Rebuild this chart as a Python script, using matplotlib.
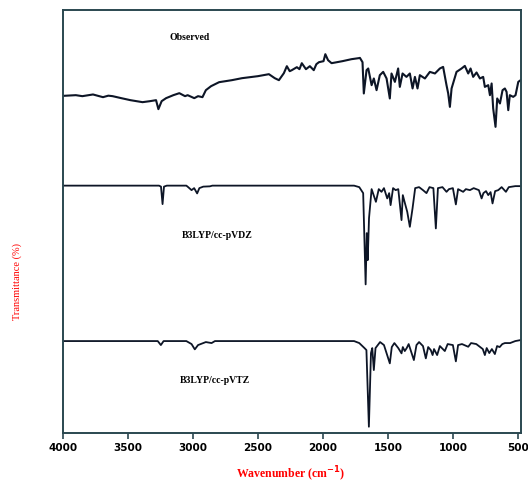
import numpy as np
import matplotlib
matplotlib.use("Agg")
import matplotlib.pyplot as plt

# observed FT-IR trace (wavenumber, relative transmittance)
obs_wn = [4000, 3900, 3850, 3768, 3720, 3691, 3650, 3617, 3550, 3480, 3387, 3330,
          3283, 3265, 3240, 3206, 3150, 3104, 3060, 3040, 2989, 2960, 2926, 2900,
          2860, 2798, 2700, 2622, 2500, 2415, 2370, 2338, 2300, 2277, 2255, 2239,
          2200, 2180, 2162, 2130, 2100, 2070, 2050, 2030, 1995, 1981, 1960, 1933,
          1850, 1780, 1726, 1715, 1695, 1685, 1664, 1651, 1625, 1608, 1587, 1562,
          1536, 1510, 1485, 1472, 1446, 1421, 1408, 1387, 1357, 1331, 1310, 1292,
          1272, 1254, 1215, 1177, 1138, 1100, 1075, 1049, 1036, 1023, 1010, 972,
          933, 908, 882, 864, 844, 818, 792, 767, 754, 728, 715, 702, 690, 672,
          659, 638, 618, 600, 587, 574, 562, 536, 518, 497, 479]
obs_t = [337.3, 338, 337, 338.7, 337, 336, 337.5, 337, 335, 333, 331, 332,
         333, 324, 332, 335, 338, 340, 337, 338, 335, 337, 336, 343,
         347, 351, 353, 355, 357, 359, 355, 353, 360, 367, 362, 363,
         366, 364, 370, 364, 367, 363, 369, 371, 372, 379, 373, 370,
         372, 374, 375, 375.3, 371, 339.7, 363, 364.7, 348, 354.7, 343, 358,
         361.3, 354.7, 334.7, 359.7, 351.3, 364.7, 346.3, 359.7, 356.3, 359.7, 344.7, 356.3,
         344.7, 358, 354.7, 361.3, 359.7, 364.7, 366.3, 348, 339.7, 326.3, 344.7, 361.3,
         364.7, 367.3, 359.7, 364.7, 356.3, 360.7, 354.7, 356.3, 346.3, 348, 338, 349.7, 324.7, 306.3,
         334.7, 329.7, 343, 344.7, 341.3, 323, 338, 336.3, 338, 351.3, 353]

# B3LYP/cc-pVDZ simulated spectrum
vdz_wn = [4000, 3260, 3245, 3233, 3222, 3200, 3050, 3036, 3010, 2990, 2967, 2950,
          2920, 2869, 2850, 1760, 1720, 1690, 1671, 1662, 1655, 1645, 1625, 1592,
          1570, 1549, 1530, 1505, 1490, 1479, 1460, 1440, 1420, 1395, 1385, 1369,
          1351, 1331, 1310, 1290, 1260, 1230, 1203, 1180, 1150, 1131, 1115, 1080,
          1049, 1030, 1000, 977, 960, 921, 900, 869, 840, 800, 779, 765, 745, 728,
          710, 695, 675, 651, 625, 592, 570, 520, 479]
vdz_t = [247.5, 247.5, 246.5, 229, 246.5, 247.5, 247.5, 246, 243, 245, 239.7, 245,
         246.5, 246.8, 247.5, 247.5, 246, 240, 148.7, 200, 173, 215, 244, 231.3,
         244, 241.3, 245, 234.7, 240, 228, 245, 243, 244, 213, 238, 230,
         221.3, 206.3, 225, 245, 246, 243, 240, 246, 245, 204.7, 245, 246,
         241.3, 244, 245, 228.7, 244, 241.3, 244, 243, 245, 243, 234.7, 240, 242, 238,
         241, 229.7, 242, 243, 246, 241.3, 246, 247, 247]

# B3LYP/cc-pVTZ simulated spectrum
vtz_wn = [4000, 3270, 3246, 3225, 3050, 3010, 2985, 2960, 2900, 2856, 2830, 1760,
          1720, 1680, 1665, 1646, 1630, 1620, 1608, 1595, 1560, 1530, 1485, 1470,
          1450, 1420, 1395, 1385, 1370, 1355, 1340, 1300, 1280, 1260, 1230, 1208,
          1190, 1170, 1156, 1145, 1121, 1100, 1062, 1040, 1000, 977, 960, 930,
          882, 860, 820, 790, 770, 754, 740, 720, 700, 677, 660, 640, 620, 600,
          560, 520, 479]
vtz_t = [92, 92, 88, 92, 92, 89, 83.7, 88, 91, 90, 92, 92,
         90, 85, 83, 6.3, 80, 85, 63, 85, 91, 88, 69.7, 86,
         90, 85, 79.7, 86, 82, 85, 89, 73, 88, 91, 87, 74.7,
         86, 83, 78, 84, 78, 87, 82, 89, 88, 71.7, 88, 89,
         86.3, 90, 89, 86, 84, 78, 85, 80, 84, 79, 87, 86, 89, 90,
         90, 92, 93]

etiquetas = ["Observed", "B3LYP/cc-pVDZ", "B3LYP/cc-pVTZ"]
pos_etiquetas = [(3023, 396), (2815, 198), (2830, 53)]

fig = plt.figure(figsize=(5.28, 4.86), dpi=100)
ax = fig.add_axes([0.119, 0.109, 0.868, 0.870])

cor_linha = "#0d1526"
ax.plot(obs_wn, obs_t, color=cor_linha, lw=1.5)
ax.plot(vdz_wn, vdz_t, color=cor_linha, lw=1.3)
ax.plot(vtz_wn, vtz_t, color=cor_linha, lw=1.3)

for texto, (xt, yt) in zip(etiquetas, pos_etiquetas):
    ax.text(xt, yt, texto, ha="center", va="center", fontsize=7,
            fontweight="bold", family="Liberation Serif")

ax.set_xlim(4000, 475)
ax.set_ylim(0, 423)
ax.set_xticks(np.arange(4000, 499, -500))
ax.set_yticks([])

for lado in ax.spines.values():
    lado.set_color("#2a4750")
    lado.set_linewidth(1.4)

ax.tick_params(axis="x", direction="out", length=4, width=1.2, color="#2a4750",
               labelsize=7.5, pad=3)
for lbl in ax.get_xticklabels():
    lbl.set_fontweight("bold")

# rótulos dos eixos posicionados na figura
fig.text(0.55, 0.024, "Wavenumber (cm$^{\\mathbf{-1}}$)", color="red", fontsize=8.5,
         fontweight="bold", family="Liberation Serif", ha="center", va="center")
fig.text(0.032, 0.42, "Transmittance (%)", color="red", fontsize=7.5,
         family="Liberation Serif", ha="center", va="center", rotation=90)

plt.savefig("out.png", dpi=100)
plt.close()
